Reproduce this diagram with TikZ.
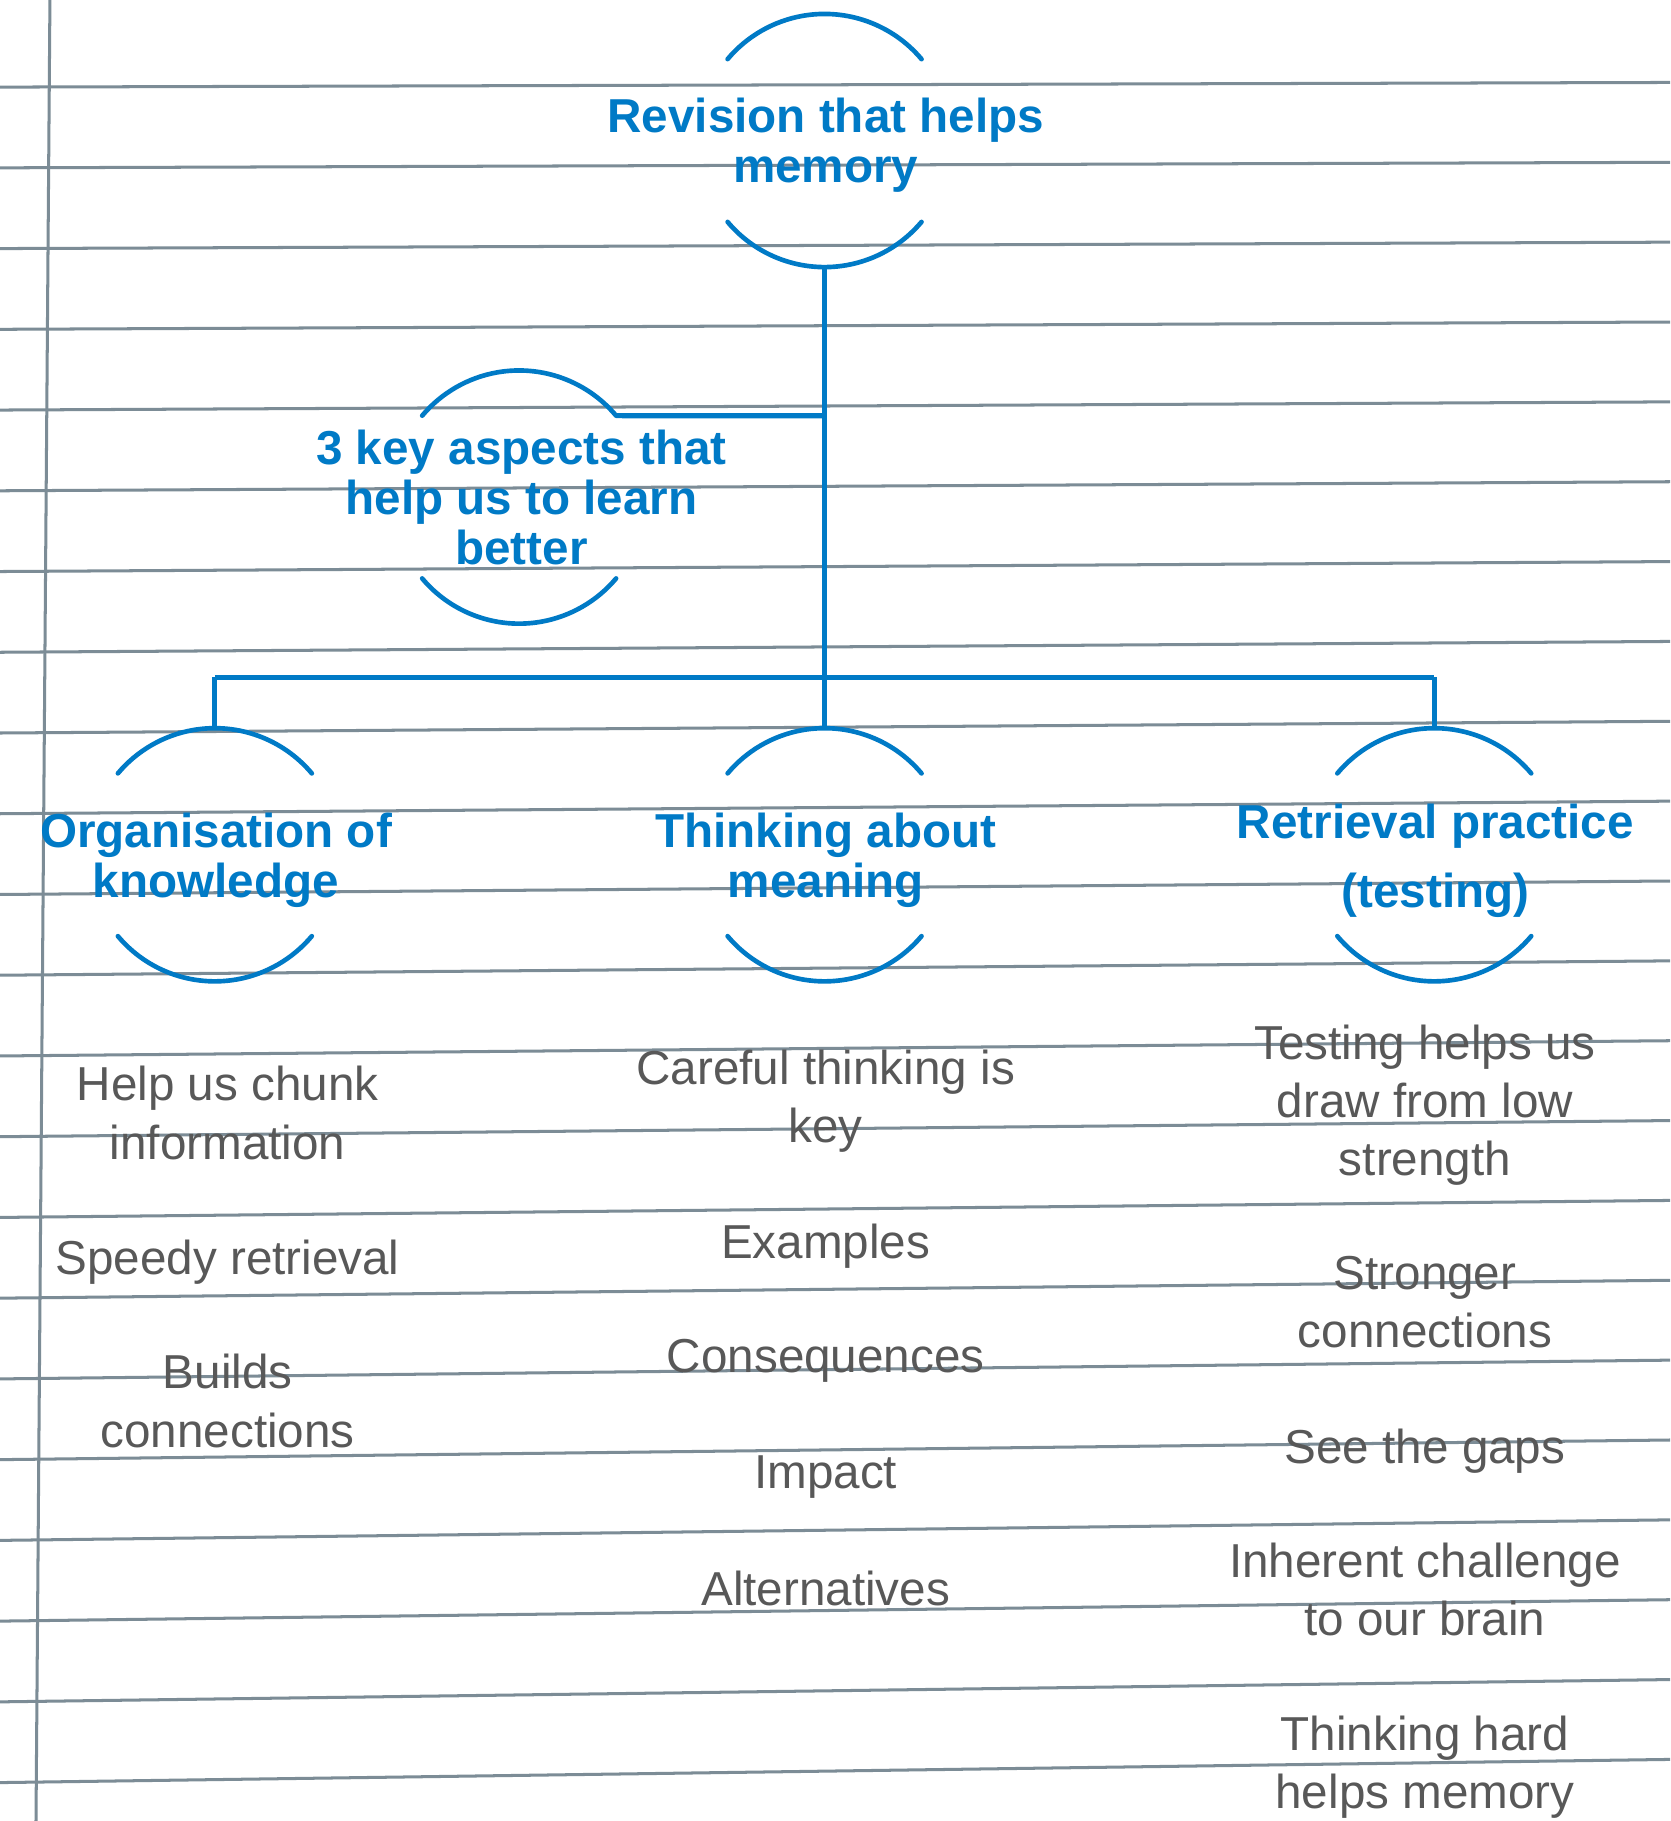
\documentclass[tikz,border=0pt]{standalone}
\usepackage{fontspec}
\setmainfont{Liberation Sans}
\definecolor{mblue}{RGB}{0,122,198}
\definecolor{mgray}{RGB}{88,88,88}
\definecolor{paperc}{RGB}{124,140,150}
\begin{document}
\begin{tikzpicture}[x=0.5pt,y=0.5pt,
  paperline/.style={draw=paperc, line width=1.3pt},
  link/.style={draw=mblue, line width=2.2pt},
  ring/.style={draw=mblue, line width=2pt, line cap=round},
  head/.style={text=mblue, font=\fontsize{20.5}{21.5}\selectfont\bfseries, align=center, anchor=base, inner sep=0pt},
  item/.style={text=mgray, font=\fontsize{20.5}{25}\selectfont, align=center, anchor=base, inner sep=0pt}]
\useasboundingbox (0,0) rectangle (1438,-1568);
\fill[white] (0,0) rectangle (1438,-1568);
% lined paper
\foreach \i in {0,...,21}
  \draw[paperline] (0,{-(75+69.52*\i)}) -- (1438,{-(71+68.76*\i)});
\draw[paperline] (43,0) -- (31,-1568);
% circle centres and junctions
\coordinate (c0) at (710,-121);
\coordinate (c1) at (447,-428);
\coordinate (ca) at (185,-736);
\coordinate (cb) at (710,-736);
\coordinate (cc) at (1235,-736);
\coordinate (j1) at (710,-358);
\coordinate (j0) at (710,-583);
\coordinate (ja) at (185,-583);
\coordinate (jc) at (1235,-583);
% half rings
\foreach \c in {c0,c1,ca,cb,cc}{
  \draw[ring] ([shift={(40:109)}]\c) arc[start angle=40,end angle=140,radius=109];
  \draw[ring] ([shift={(220:109)}]\c) arc[start angle=220,end angle=320,radius=109];
}
% connectors
\draw[link] ([shift={(0,-109)}]c0) -- (j0);
\draw[link] (j1) -- ([shift={(40:109)}]c1);
\draw[link] (ja) -- (jc);
\draw[link] (ja) -- ([shift={(0,109)}]ca);
\draw[link] (j0) -- ([shift={(0,109)}]cb);
\draw[link] (jc) -- ([shift={(0,109)}]cc);
% headings (anchor = baseline of the last line)
\node[head] (t0) at (711,-157) {Revision that helps\\memory};
\node[head] (t1) at (449,-486) {3 key aspects that\\help us to learn\\better};
\node[head] (ta) at (186,-773) {Organisation of\\knowledge};
\node[head] (tb) at (711,-773) {Thinking about\\meaning};
\node[head] (tc) at (1236,-781) {Retrieval practice\\[8pt](testing)};
% items
\node[item] (a1) at (196,-998) {Help us chunk\\information};
\node[item] (a2) at (196,-1097) {Speedy retrieval};
\node[item] (a3) at (196,-1246) {Builds\\connections};
\node[item] (b1) at (711,-984) {Careful thinking is\\key};
\node[item] (b2) at (711,-1084) {Examples};
\node[item] (b3) at (711,-1182) {Consequences};
\node[item] (b4) at (711,-1282) {Impact};
\node[item] (b5) at (711,-1382) {Alternatives};
\node[item] (r1) at (1227,-1012) {Testing helps us\\draw from low\\strength};
\node[item] (r2) at (1227,-1160) {Stronger\\connections};
\node[item] (r3) at (1227,-1260) {See the gaps};
\node[item] (r4) at (1227,-1408) {Inherent challenge\\to our brain};
\node[item] (r5) at (1227,-1557) {Thinking hard\\helps memory};
\end{tikzpicture}
\end{document}
